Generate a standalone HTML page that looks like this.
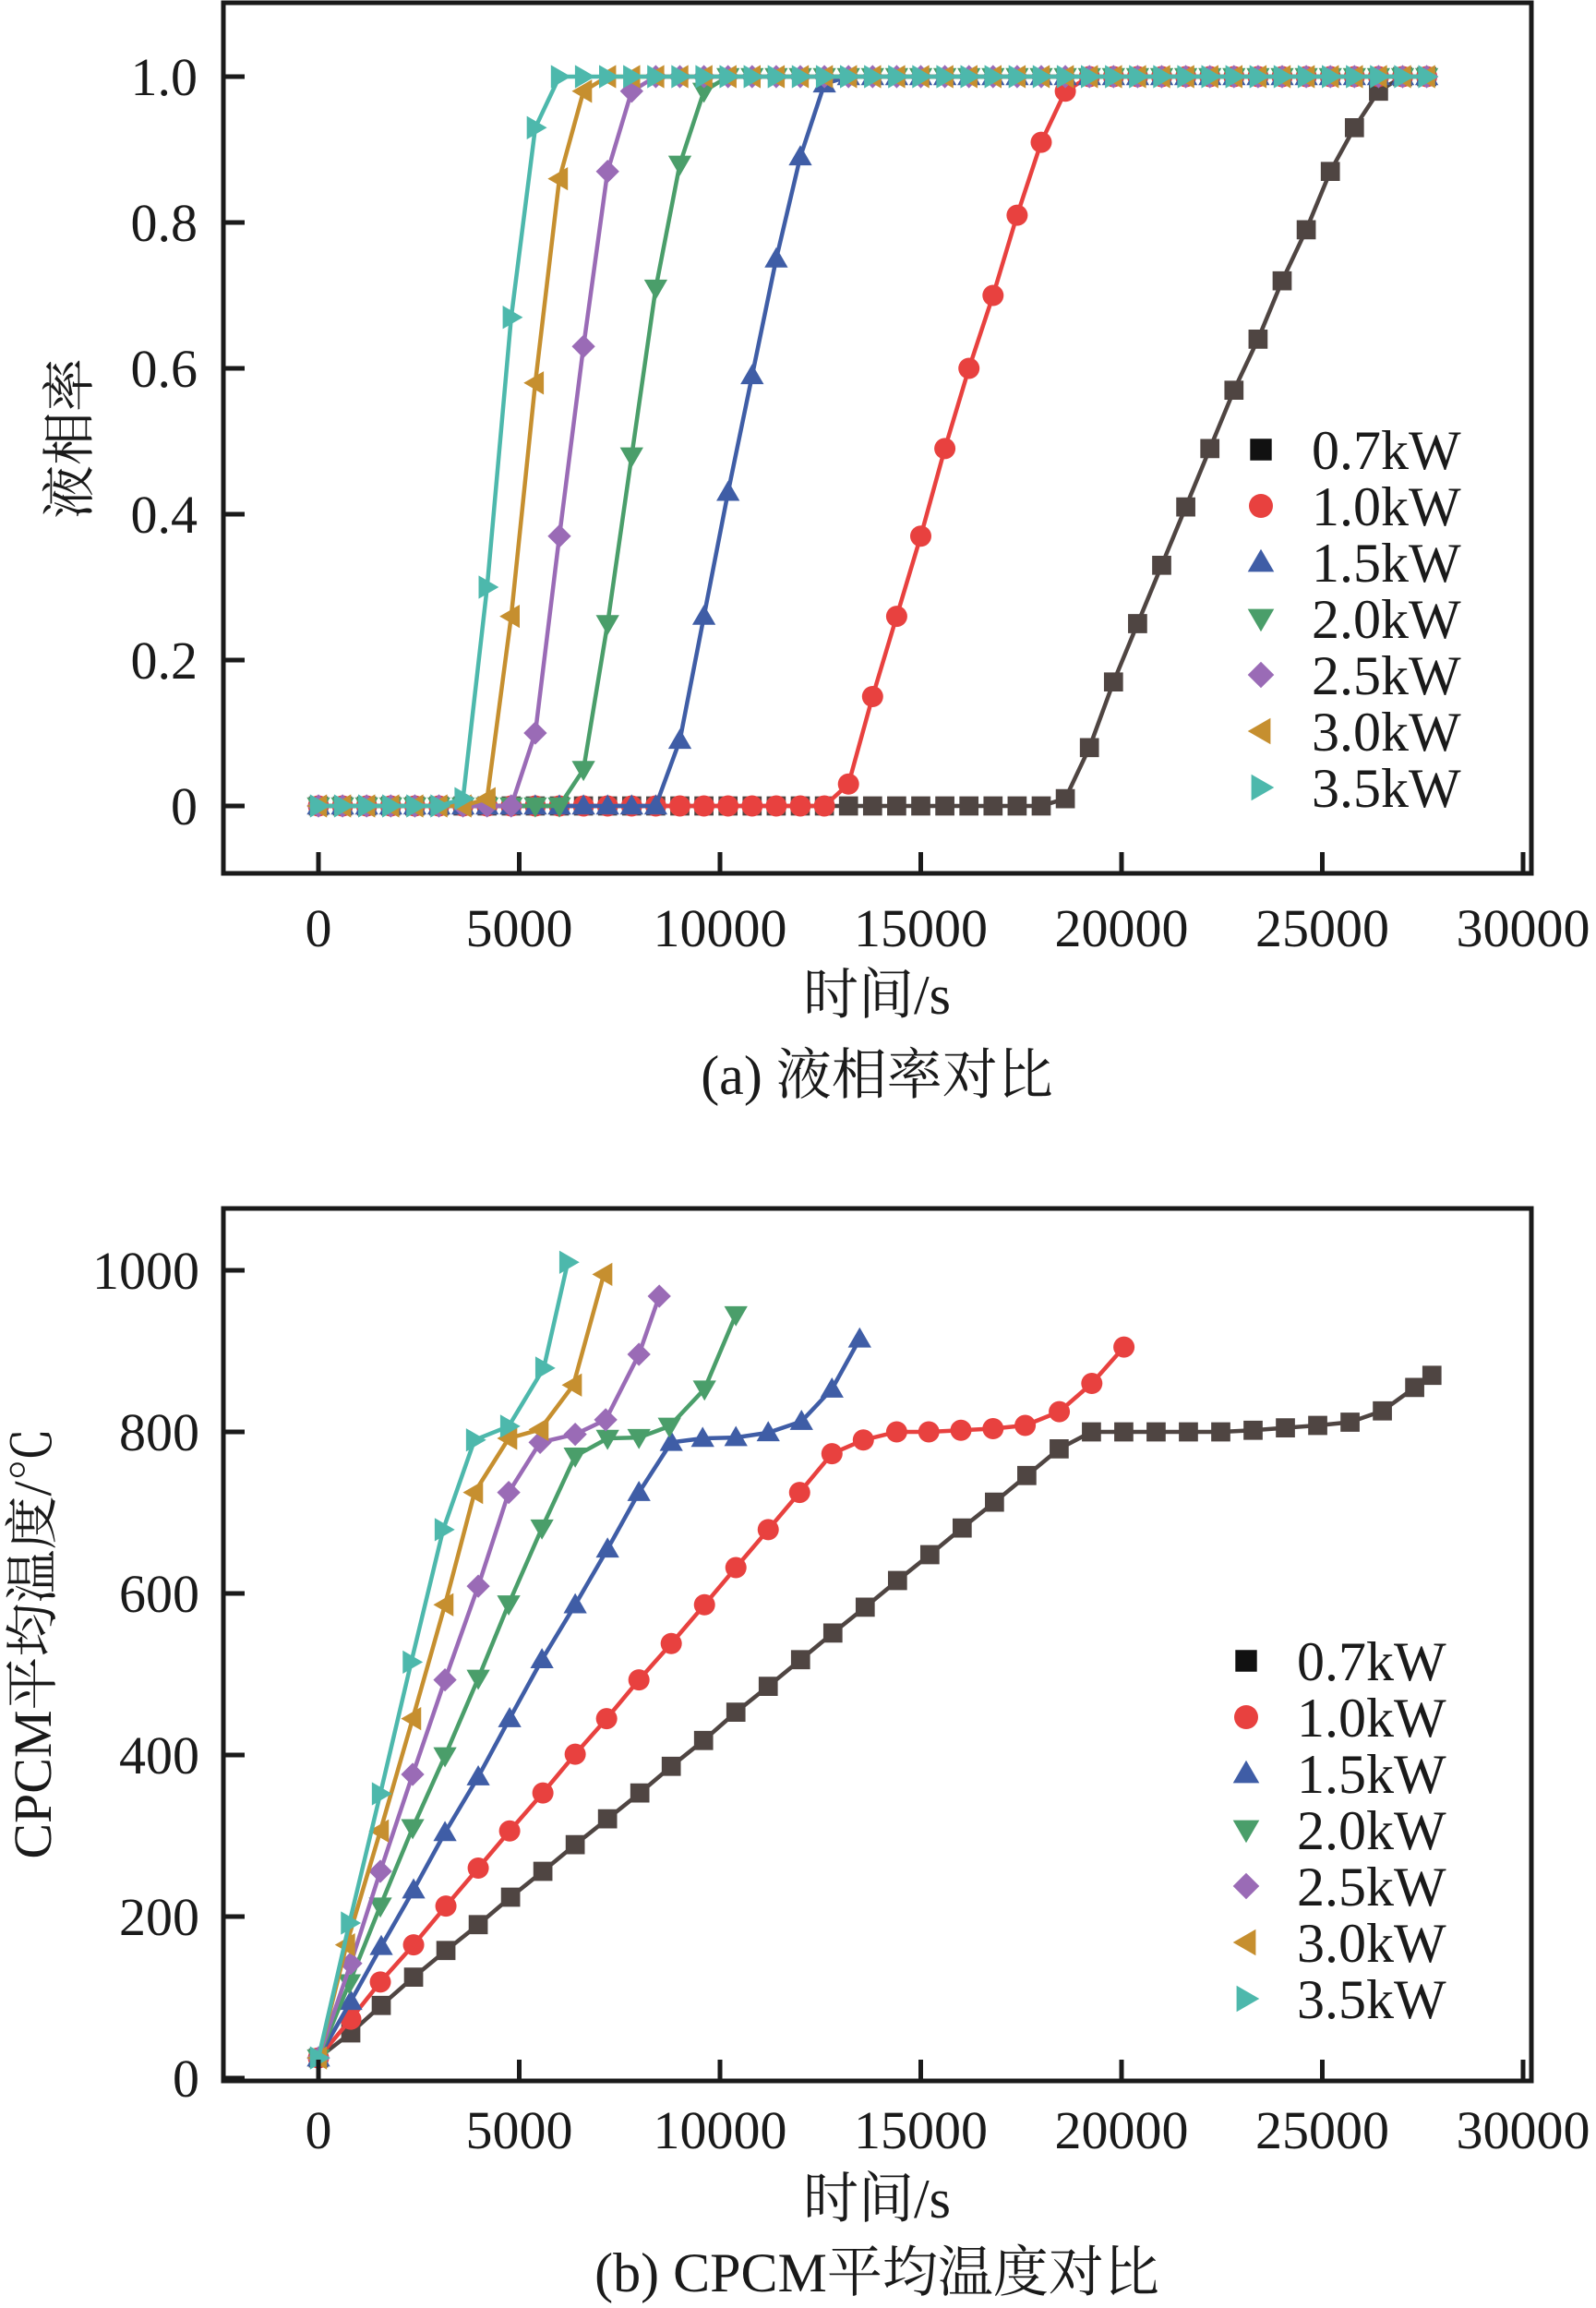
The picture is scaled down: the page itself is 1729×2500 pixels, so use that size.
<!DOCTYPE html>
<html><head><meta charset="utf-8">
<style>
html,body{margin:0;padding:0;background:#fff;}
svg{display:block;}
text{font-family:"Liberation Serif","Noto Serif CJK SC",serif;fill:#1a1a1a;}
</style></head>
<body>
<svg id="fig" width="1729" height="2500" viewBox="0 0 1729 2500" xmlns="http://www.w3.org/2000/svg">
  <rect width="1729" height="2500" fill="#fff"/>
  <g id="chartA"></g>
  <g id="chartB"></g>
</svg>
<script>
// ---------- shared ----------
const seriesNames = ["0.7kW","1.0kW","1.5kW","2.0kW","2.5kW","3.0kW","3.5kW"];
const seriesColors = ["#4f4542","#e8413f","#3f5da6","#4a9e6a","#9a6bb6","#c68f2f","#4db8ac"];
const seriesMarkers = ["square","circle","up","down","diamond","left","right"];
const xTicks = [0,5000,10000,15000,20000,25000,30000];

// ---------- chart A: liquid fraction ----------
const timesA = [0,600,1200,1800,2400,3000,3600,4200,4800,5400,6000,6600,7200,7800,8400,9000,9600,10200,10800,11400,12000,12600,13200,13800,14400,15000,15600,16200,16800,17400,18000,18600,19200,19800,20400,21000,21600,22200,22800,23400,24000,24600,25200,25800,26400,27000,27600];
const frac07 = [0,0,0,0,0,0,0,0,0,0,0,0,0,0,0,0,0,0,0,0,0,0,0,0,0,0,0,0,0,0,0,0.01,0.08,0.17,0.25,0.33,0.41,0.49,0.57,0.64,0.72,0.79,0.87,0.93,0.98,1,1];
const frac10 = [0,0,0,0,0,0,0,0,0,0,0,0,0,0,0,0,0,0,0,0,0,0,0.03,0.15,0.26,0.37,0.49,0.60,0.70,0.81,0.91,0.98,1,1,1,1,1,1,1,1,1,1,1,1,1,1,1];
const frac15 = [0,0,0,0,0,0,0,0,0,0,0,0,0,0,0,0.09,0.26,0.43,0.59,0.75,0.89,0.99,1,1,1,1,1,1,1,1,1,1,1,1,1,1,1,1,1,1,1,1,1,1,1,1,1];
const frac20 = [0,0,0,0,0,0,0,0,0,0,0,0.05,0.25,0.48,0.71,0.88,0.98,1,1,1,1,1,1,1,1,1,1,1,1,1,1,1,1,1,1,1,1,1,1,1,1,1,1,1,1,1,1];
const frac25 = [0,0,0,0,0,0,0,0,0,0.10,0.37,0.63,0.87,0.98,1,1,1,1,1,1,1,1,1,1,1,1,1,1,1,1,1,1,1,1,1,1,1,1,1,1,1,1,1,1,1,1,1];
const frac30 = [0,0,0,0,0,0,0,0.01,0.26,0.58,0.86,0.98,1,1,1,1,1,1,1,1,1,1,1,1,1,1,1,1,1,1,1,1,1,1,1,1,1,1,1,1,1,1,1,1,1,1,1];
const frac35 = [0,0,0,0,0,0,0.01,0.30,0.67,0.93,1,1,1,1,1,1,1,1,1,1,1,1,1,1,1,1,1,1,1,1,1,1,1,1,1,1,1,1,1,1,1,1,1,1,1,1,1];
const yTicksA = [0,0.2,0.4,0.6,0.8,1.0];
const yTickLabelsA = ["0","0.2","0.4","0.6","0.8","1.0"];

// ---------- chart B: CPCM temperature ----------
const tB07 = [0,805,1564,2369,3174,3979,4784,5589,6394,7199,8004,8786,9591,10396,11201,12006,12811,13616,14421,15226,16031,16836,17641,18446,19251,20056,20861,21666,22471,23276,24081,24886,25691,26496,27301,27730];
const vB07 = [25,56,90,125,158,190,224,256,289,321,353,386,418,453,485,518,551,583,616,648,681,713,746,779,800,800,800,800,800,802,805,808,812,826,855,870];
const tB10 = [0,805,1541,2369,3174,3979,4761,5589,6394,7176,7981,8786,9614,10396,11201,11983,12788,13570,14400,15200,16000,16800,17600,18450,19260,20060];
const vB10 = [25,73,119,165,213,260,306,353,401,445,493,538,586,632,679,725,773,790,800,800,802,804,808,825,860,905];
const tB15 = [0,805,1564,2369,3151,3979,4761,5566,6394,7199,7981,8786,9568,10396,11201,12029,12788,13478];
const vB15 = [25,95,163,233,304,373,445,518,586,655,725,787,792,793,799,813,853,915];
const tB20 = [0,770,1541,2346,3151,3979,4738,5566,6394,7199,7981,8740,9614,10396];
const vB20 = [25,118,213,310,399,495,587,681,770,792,793,807,853,945];
const tB25 = [0,805,1541,2346,3151,3979,4738,5520,6394,7153,7981,8487];
const vB25 = [25,142,256,376,493,609,725,787,797,815,896,968];
const tB30 = [0,700,1541,2346,3151,3887,4738,5520,6348,7107];
const vB30 = [25,165,306,445,586,725,792,803,858,995];
const tB35 = [0,770,1541,2310,3105,3887,4738,5612,6210];
const vB35 = [25,192,352,515,679,790,807,879,1010];
const yTicksB = [0,200,400,600,800,1000];
const yTickLabelsB = ["0","200","400","600","800","1000"];

const NS = "http://www.w3.org/2000/svg";
function mk(tag, attrs, parent){
  const e = document.createElementNS(NS, tag);
  for (const k in attrs) e.setAttribute(k, attrs[k]);
  parent.appendChild(e);
  return e;
}
function markerPath(type, cx, cy, s){
  const h = s/2;
  switch(type){
    case "square": return `M${cx-h*0.9},${cy-h*0.9}h${h*1.8}v${h*1.8}h${-h*1.8}Z`;
    case "up": return `M${cx},${cy-h*1.1}L${cx+h*1.1},${cy+h*0.8}L${cx-h*1.1},${cy+h*0.8}Z`;
    case "down": return `M${cx},${cy+h*1.1}L${cx+h*1.1},${cy-h*0.8}L${cx-h*1.1},${cy-h*0.8}Z`;
    case "left": return `M${cx-h*1.1},${cy}L${cx+h*0.8},${cy-h*1.1}L${cx+h*0.8},${cy+h*1.1}Z`;
    case "right": return `M${cx+h*1.1},${cy}L${cx-h*0.8},${cy-h*1.1}L${cx-h*0.8},${cy+h*1.1}Z`;
    case "diamond": return `M${cx},${cy-h*1.1}L${cx+h*1.1},${cy}L${cx},${cy+h*1.1}L${cx-h*1.1},${cy}Z`;
  }
  return "";
}
function drawMarker(g, type, cx, cy, s, color){
  let el;
  if (type === "circle") el = mk("circle", {cx:cx, cy:cy, r:s*0.5, fill:color}, g);
  else el = mk("path", {d:markerPath(type,cx,cy,s), fill:color}, g);
  return el;
}

function drawChart(root, cfg){
  const L=cfg.left, R=cfg.right, T=cfg.top, B=cfg.bottom;
  const xS = t => cfg.x0 + t*(cfg.x30 - cfg.x0)/30000;
  const yS = v => cfg.yZero - v*(cfg.yZero - cfg.yMax)/cfg.vMax;

  cfg.series.forEach((s, i) => {
    const g = mk("g", {}, root);
    
    
    const pts = s.t.map((t,k) => xS(t).toFixed(1)+","+yS(s.v[k]).toFixed(1)).join(" ");
    const line = mk("polyline", {points:pts, fill:"none", stroke:seriesColors[i], "stroke-width":4.5, "stroke-linejoin":"round"}, g);
    
    
    s.t.forEach((t,k) => {
      const m = drawMarker(g, seriesMarkers[i], xS(t), yS(s.v[k]), 23, seriesColors[i]);
      
      
    });
  });

  const frame = mk("rect", {x:L, y:T, width:R-L, height:B-T, fill:"none", stroke:"#1a1a1a", "stroke-width":5}, root);
  
  

  xTicks.forEach(t => {
    const x = xS(t);
    const tk = mk("line", {x1:x, x2:x, y1:B, y2:B-23, stroke:"#1a1a1a", "stroke-width":5}, root);
    
    
    const lb = mk("text", {x:x, y:cfg.xLabelY, "font-size":58, "text-anchor":"middle"}, root);
    lb.textContent = String(t);
    
    
  });
  cfg.yTicks.forEach((v, k) => {
    const y = yS(v);
    const tk = mk("line", {x1:L, x2:L+23, y1:y, y2:y, stroke:"#1a1a1a", "stroke-width":5}, root);
    
    
    const lb = mk("text", {x:cfg.yLabelX, y:y+20, "font-size":58, "text-anchor":"end"}, root);
    lb.textContent = cfg.yTickLabels[k];
    
    
  });

  const lg = mk("g", {}, root);
  
  
  seriesNames.forEach((n, i) => {
    const y = cfg.legY + i*61;
    const e = mk("g", {}, lg);
    
    
    drawMarker(e, seriesMarkers[i], cfg.legX, y, 26, i===0 ? "#111" : seriesColors[i]);
    const tx = mk("text", {x:cfg.legX+55, y:y+21, "font-size":60}, e);
    tx.textContent = n;
  });
}

drawChart(document.getElementById("chartA"), {
  left:242, right:1659, top:3, bottom:946,
  x0:345, x30:1650, yZero:873, yMax:83, vMax:1.0,
  xLabelY:1025, yLabelX:214,
  yTicks:yTicksA, yTickLabels:yTickLabelsA,
  legX:1366, legY:487,
  series:[
    {t:timesA, v:frac07},{t:timesA, v:frac10},{t:timesA, v:frac15},{t:timesA, v:frac20},
    {t:timesA, v:frac25},{t:timesA, v:frac30},{t:timesA, v:frac35}
  ]
});
drawChart(document.getElementById("chartB"), {
  left:242, right:1659, top:1309, bottom:2254,
  x0:345, x30:1650, yZero:2251, yMax:1376, vMax:1000,
  xLabelY:2327, yLabelX:216,
  yTicks:yTicksB, yTickLabels:yTickLabelsB,
  legX:1350, legY:1799,
  series:[
    {t:tB07, v:vB07},{t:tB10, v:vB10},{t:tB15, v:vB15},{t:tB20, v:vB20},
    {t:tB25, v:vB25},{t:tB30, v:vB30},{t:tB35, v:vB35}
  ]
});
</script>
<div style="position:absolute;left:0;top:0;width:1729px;height:2500px;pointer-events:none;">
<svg width="1729" height="2500" viewBox="0 0 1729 2500" xmlns="http://www.w3.org/2000/svg" style="position:absolute;left:0;top:0;">
  <text transform="translate(95,475) rotate(-90)" font-size="58" text-anchor="middle">液相率</text>
  <text x="950" y="1098" font-size="60" text-anchor="middle">时间/s</text>
  <text x="950" y="1185" font-size="60" text-anchor="middle">(a) 液相率对比</text>
  <text transform="translate(55,1780) rotate(-90)" font-size="58" text-anchor="middle">CPCM平均温度/℃</text>
  <text x="950" y="2402" font-size="60" text-anchor="middle">时间/s</text>
  <text x="950" y="2482" font-size="60" text-anchor="middle">(b) CPCM平均温度对比</text>
</svg>
</div>
</body></html>
